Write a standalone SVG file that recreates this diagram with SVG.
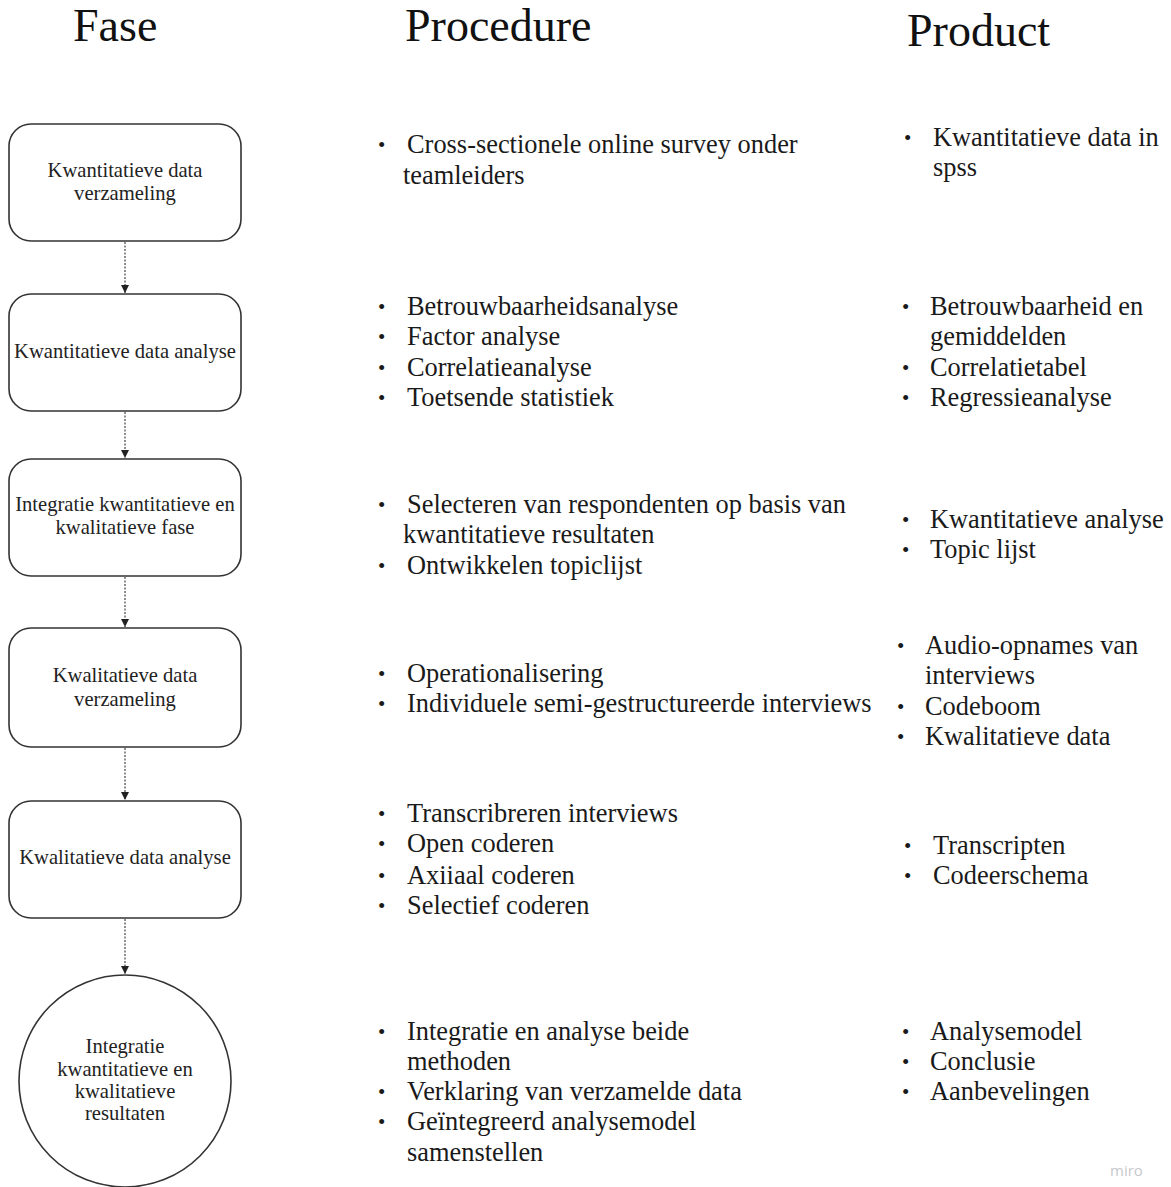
<svg xmlns="http://www.w3.org/2000/svg" width="1171" height="1187" viewBox="0 0 1171 1187">
<style>
.hd{font-family:"Liberation Serif","Times New Roman",serif;font-size:46px;fill:#111}
.bx{fill:#fff;stroke:#333;stroke-width:1.6}
.bt{font-family:"Liberation Serif","Times New Roman",serif;font-size:20.6px;fill:#222;text-anchor:middle}
.tx{font-family:"Liberation Serif","Times New Roman",serif;font-size:26.4px;fill:#1a1a1a}
.bl{font-family:"Liberation Serif","Times New Roman",serif;font-size:21px;fill:#1a1a1a}
.cn{stroke:#444;stroke-width:1.2;stroke-dasharray:2 1.5;fill:none}
</style>
<defs>
<marker id="ah" viewBox="0 0 10 10" refX="10" refY="5" markerWidth="8" markerHeight="10" markerUnits="userSpaceOnUse" orient="auto">
<path d="M0,0 L10,5 L0,10 z" fill="#222"/>
</marker>
</defs>
<rect width="1171" height="1187" fill="#fff"/>
<g id="headers">
<text class="hd" x="73" y="41">Fase</text>
<text class="hd" x="405" y="41">Procedure</text>
<text class="hd" x="907" y="46">Product</text>
</g>
<g id="connectors">
<line class="cn" x1="125" y1="242" x2="125" y2="293" marker-end="url(#ah)"/>
<line class="cn" x1="125" y1="412" x2="125" y2="458" marker-end="url(#ah)"/>
<line class="cn" x1="125" y1="577" x2="125" y2="627" marker-end="url(#ah)"/>
<line class="cn" x1="125" y1="748" x2="125" y2="800" marker-end="url(#ah)"/>
<line class="cn" x1="125" y1="919" x2="125" y2="974" marker-end="url(#ah)"/>
</g>
<g id="node1">
<rect class="bx" x="9" y="124" width="232" height="117" rx="22"/>
<text class="bt" x="125" y="177">Kwantitatieve data</text>
<text class="bt" x="125" y="200">verzameling</text>
</g>
<g id="node2">
<rect class="bx" x="9" y="294" width="232" height="117" rx="22"/>
<text class="bt" x="125" y="358">Kwantitatieve data analyse</text>
</g>
<g id="node3">
<rect class="bx" x="9" y="459" width="232" height="117" rx="22"/>
<text class="bt" x="125" y="511">Integratie kwantitatieve en</text>
<text class="bt" x="125" y="534">kwalitatieve fase</text>
</g>
<g id="node4">
<rect class="bx" x="9" y="628" width="232" height="119" rx="22"/>
<text class="bt" x="125" y="682">Kwalitatieve data</text>
<text class="bt" x="125" y="706">verzameling</text>
</g>
<g id="node5">
<rect class="bx" x="9" y="801" width="232" height="117" rx="22"/>
<text class="bt" x="125" y="864">Kwalitatieve data analyse</text>
</g>
<g id="node6">
<circle class="bx" cx="125" cy="1081" r="106"/>
<text class="bt" x="125" y="1053">Integratie</text>
<text class="bt" x="125" y="1076">kwantitatieve en</text>
<text class="bt" x="125" y="1098">kwalitatieve</text>
<text class="bt" x="125" y="1120">resultaten</text>
</g>
<g id="procedure">
<text class="bl" x="378" y="152">•</text>
<text class="tx" x="407" y="153">Cross-sectionele online survey onder</text>
<text class="tx" x="403" y="184">teamleiders</text>

<text class="bl" x="378" y="314">•</text><text class="tx" x="407" y="315">Betrouwbaarheidsanalyse</text>
<text class="bl" x="378" y="344">•</text><text class="tx" x="407" y="345">Factor analyse</text>
<text class="bl" x="378" y="375">•</text><text class="tx" x="407" y="376">Correlatieanalyse</text>
<text class="bl" x="378" y="405">•</text><text class="tx" x="407" y="406">Toetsende statistiek</text>

<text class="bl" x="378" y="512">•</text><text class="tx" x="407" y="513">Selecteren van respondenten op basis van</text>
<text class="tx" x="403" y="543">kwantitatieve resultaten</text>
<text class="bl" x="378" y="573">•</text><text class="tx" x="407" y="574">Ontwikkelen topiclijst</text>

<text class="bl" x="378" y="681">•</text><text class="tx" x="407" y="682">Operationalisering</text>
<text class="bl" x="378" y="711">•</text><text class="tx" x="407" y="712">Individuele semi-gestructureerde interviews</text>

<text class="bl" x="378" y="821">•</text><text class="tx" x="407" y="822">Transcribreren interviews</text>
<text class="bl" x="378" y="851">•</text><text class="tx" x="407" y="852">Open coderen</text>
<text class="bl" x="378" y="883">•</text><text class="tx" x="407" y="884">Axiiaal coderen</text>
<text class="bl" x="378" y="913">•</text><text class="tx" x="407" y="914">Selectief coderen</text>

<text class="bl" x="378" y="1039">•</text><text class="tx" x="407" y="1040">Integratie en analyse beide</text>
<text class="tx" x="407" y="1070">methoden</text>
<text class="bl" x="378" y="1099">•</text><text class="tx" x="407" y="1100">Verklaring van verzamelde data</text>
<text class="bl" x="378" y="1129">•</text><text class="tx" x="407" y="1130">Geïntegreerd analysemodel</text>
<text class="tx" x="407" y="1161">samenstellen</text>
</g>
<g id="product">
<text class="bl" x="904" y="145">•</text><text class="tx" x="933" y="146">Kwantitatieve data in</text>
<text class="tx" x="933" y="176">spss</text>

<text class="bl" x="902" y="314">•</text><text class="tx" x="930" y="315">Betrouwbaarheid en</text>
<text class="tx" x="930" y="345">gemiddelden</text>
<text class="bl" x="902" y="375">•</text><text class="tx" x="930" y="376">Correlatietabel</text>
<text class="bl" x="902" y="405">•</text><text class="tx" x="930" y="406">Regressieanalyse</text>

<text class="bl" x="902" y="527">•</text><text class="tx" x="930" y="528">Kwantitatieve analyse</text>
<text class="bl" x="902" y="557">•</text><text class="tx" x="930" y="558">Topic lijst</text>

<text class="bl" x="897" y="653">•</text><text class="tx" x="925" y="654">Audio-opnames van</text>
<text class="tx" x="925" y="684">interviews</text>
<text class="bl" x="897" y="714">•</text><text class="tx" x="925" y="715">Codeboom</text>
<text class="bl" x="897" y="744">•</text><text class="tx" x="925" y="745">Kwalitatieve data</text>

<text class="bl" x="904" y="853">•</text><text class="tx" x="933" y="854">Transcripten</text>
<text class="bl" x="904" y="883">•</text><text class="tx" x="933" y="884">Codeerschema</text>

<text class="bl" x="902" y="1039">•</text><text class="tx" x="930" y="1040">Analysemodel</text>
<text class="bl" x="902" y="1069">•</text><text class="tx" x="930" y="1070">Conclusie</text>
<text class="bl" x="902" y="1099">•</text><text class="tx" x="930" y="1100">Aanbevelingen</text>
</g>
<text x="1110" y="1176" font-family="'Open Sans','Liberation Sans',sans-serif" font-size="15" fill="#c8c8cc">miro</text>
</svg>
